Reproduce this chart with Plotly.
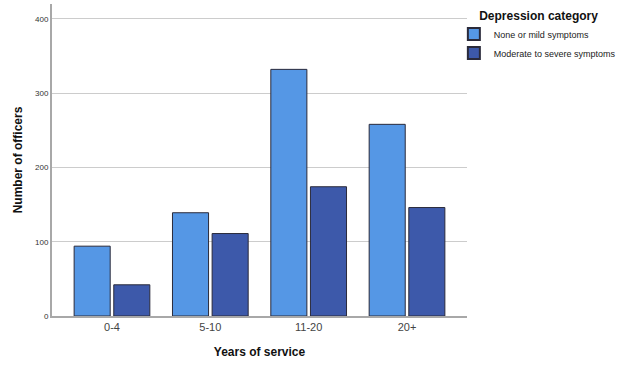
import plotly.graph_objects as go

categories = ["0-4", "5-10", "11-20", "20+"]
none_mild = [94, 139, 332, 258]
moderate_severe = [42, 111, 174, 146]
series_names = ["None or mild symptoms", "Moderate to severe symptoms"]
legend_title = "Depression category"
y_ticks = [0, 100, 200, 300, 400]

fig = go.Figure()
fig.add_trace(go.Bar(x=categories, y=none_mild, name=series_names[0],
                     marker=dict(color="#5597E5", line=dict(color="#2a2a3a", width=1))))
fig.add_trace(go.Bar(x=categories, y=moderate_severe, name=series_names[1],
                     marker=dict(color="#3D59AA", line=dict(color="#2a2a3a", width=1))))

fig.update_layout(
    width=624, height=386,
    margin=dict(l=52, r=156, t=4, b=70),
    paper_bgcolor="white", plot_bgcolor="white",
    barmode="group", bargap=0.194, bargroupgap=0.09,
    font=dict(family="Liberation Sans, Arial, sans-serif", color="#333333"),
    showlegend=True,
    legend=dict(
        title=dict(text="\u00a0" * 7 + "<b>" + legend_title + "</b>",
                   font=dict(size=12, color="#111111"), side="top"),
        x=0.966, xanchor="left", y=1.0, yanchor="top",
        font=dict(size=9, color="#222222"),
        itemsizing="constant", tracegroupgap=0, itemwidth=30,
        bgcolor="rgba(0,0,0,0)",
    ),
    xaxis=dict(
        range=[-0.61, 3.61], showline=True, linecolor="#a8a8a8", linewidth=2,
        ticks="", tickfont=dict(size=11, color="#444444"),
        title=dict(text="<b>Years of service</b>", font=dict(size=12, color="#111111"), standoff=15),
        showgrid=False,
    ),
    yaxis=dict(
        range=[0, 420], tickvals=y_ticks, showline=True, linecolor="#a8a8a8", linewidth=2,
        showgrid=True, gridcolor="#cccccc", gridwidth=1, ticks="",
        tickfont=dict(size=8, color="#333333"), zeroline=False,
        title=dict(text="<b>Number of officers</b>", font=dict(size=12, color="#111111"), standoff=10),
    ),
)

fig.write_html("out.html", config={"displayModeBar": False},
               post_script="document.body.style.margin='0';")
